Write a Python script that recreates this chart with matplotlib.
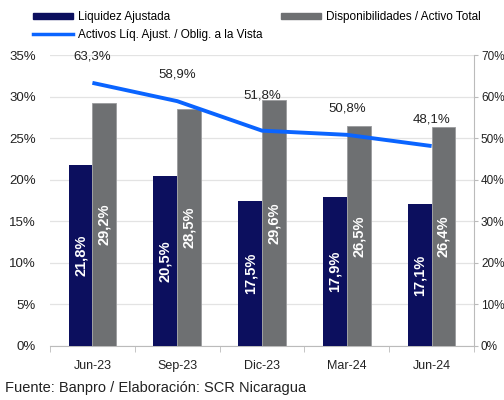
import matplotlib
matplotlib.use("Agg")
import matplotlib.pyplot as plt
import numpy as np
from matplotlib.patches import Patch
from matplotlib.lines import Line2D

categories = ["Jun-23", "Sep-23", "Dic-23", "Mar-24", "Jun-24"]
liquidez = [21.8, 20.5, 17.5, 17.9, 17.1]
disponib = [29.2, 28.5, 29.6, 26.5, 26.4]
activos = [63.3, 58.9, 51.8, 50.8, 48.1]
left_ticks = [0, 5, 10, 15, 20, 25, 30, 35]
right_ticks = [0, 10, 20, 30, 40, 50, 60, 70]

plt.rcParams['font.family'] = ['Liberation Sans', 'DejaVu Sans']

navy = '#0c0f5e'
gray = '#6e7072'
blue = '#0a64ff'

fig = plt.figure(figsize=(5.04, 4.0), dpi=100)
ax = fig.add_axes([0.0992, 0.135, 0.8413, 0.7275])
ax2 = ax.twinx()

x = np.arange(len(categories))
w = 0.28
b1 = ax.bar(x - w/2, liquidez, w, color=navy, zorder=3)
b2 = ax.bar(x + w/2, disponib, w, color=gray, edgecolor='#9a9b9d', linewidth=0.6, zorder=3)

def fmt(v):
    return f"{v:.1f}%".replace('.', ',')

for rect, v in zip(b1, liquidez):
    ax.text(rect.get_x() + rect.get_width()/2, v/2, fmt(v), rotation=90,
            ha='center', va='center', color='white', fontweight='bold',
            fontsize=10.5, zorder=4)
for rect, v in zip(b2, disponib):
    ax.text(rect.get_x() + rect.get_width()/2, v/2, fmt(v), rotation=90,
            ha='center', va='center', color='white', fontweight='bold',
            fontsize=10.5, zorder=4)

ax2.plot(x, activos, color=blue, linewidth=2.8, zorder=5, solid_capstyle='butt')
offsets = [19, 19, 25, 19, 19]
for xi, v, off in zip(x, activos, offsets):
    ax2.annotate(fmt(v), (xi, v), xytext=(0, off), textcoords='offset points',
                 ha='center', va='center', fontsize=9.5, color='#222222', zorder=6)

ax.set_xlim(-0.5, len(categories) - 0.5)
ax.set_ylim(0, 35)
ax2.set_ylim(0, 70)
ax.set_yticks(left_ticks)
ax.set_yticklabels([f"{t}%" for t in left_ticks], fontsize=9.5, color='#222222')
ax2.set_yticks(right_ticks)
ax2.set_yticklabels([f"{t}%" for t in right_ticks], fontsize=8.5, color='#222222')
ax.set_xticks(x)
ax.set_xticklabels(categories, fontsize=9, color='#222222')
ax.tick_params(axis='x', length=0, pad=10)
ax.set_xticks(np.arange(-0.5, len(categories)), minor=True)
ax.tick_params(axis='x', which='minor', length=4, color='#bbbbbb')
ax.tick_params(axis='y', length=0, pad=10)
ax2.tick_params(axis='y', length=3, color='#bbbbbb', pad=2)

ax.grid(axis='y', color='#e3e3e3', linewidth=0.9, zorder=0)
ax.set_axisbelow(True)
for s in ['top', 'left', 'right']:
    ax.spines[s].set_visible(False)
for s in ['top', 'left', 'bottom']:
    ax2.spines[s].set_visible(False)
ax.spines['bottom'].set_color('#bbbbbb')
ax2.spines['right'].set_color('#bbbbbb')

leg_kw = dict(frameon=False, fontsize=8.5, handlelength=3.4, handleheight=0.5,
              handletextpad=0.4, labelspacing=0.5, borderaxespad=0, borderpad=0)
fig.legend([Patch(color=navy), Line2D([0], [0], color=blue, lw=2.5)],
           ["Liquidez Ajustada", "Activos Líq. Ajust. / Oblig. a la Vista"],
           loc='upper left', bbox_to_anchor=(0.065, 0.972), **leg_kw)
fig.legend([Patch(color=gray)], ["Disponibilidades / Activo Total"],
           loc='upper left', bbox_to_anchor=(0.558, 0.972), **leg_kw)

fig.text(0.01, 0.03, "Fuente: Banpro / Elaboración: SCR Nicaragua", fontsize=10.5,
         color='#222222', ha='left', va='center')

fig.savefig("out.png", dpi=100)
